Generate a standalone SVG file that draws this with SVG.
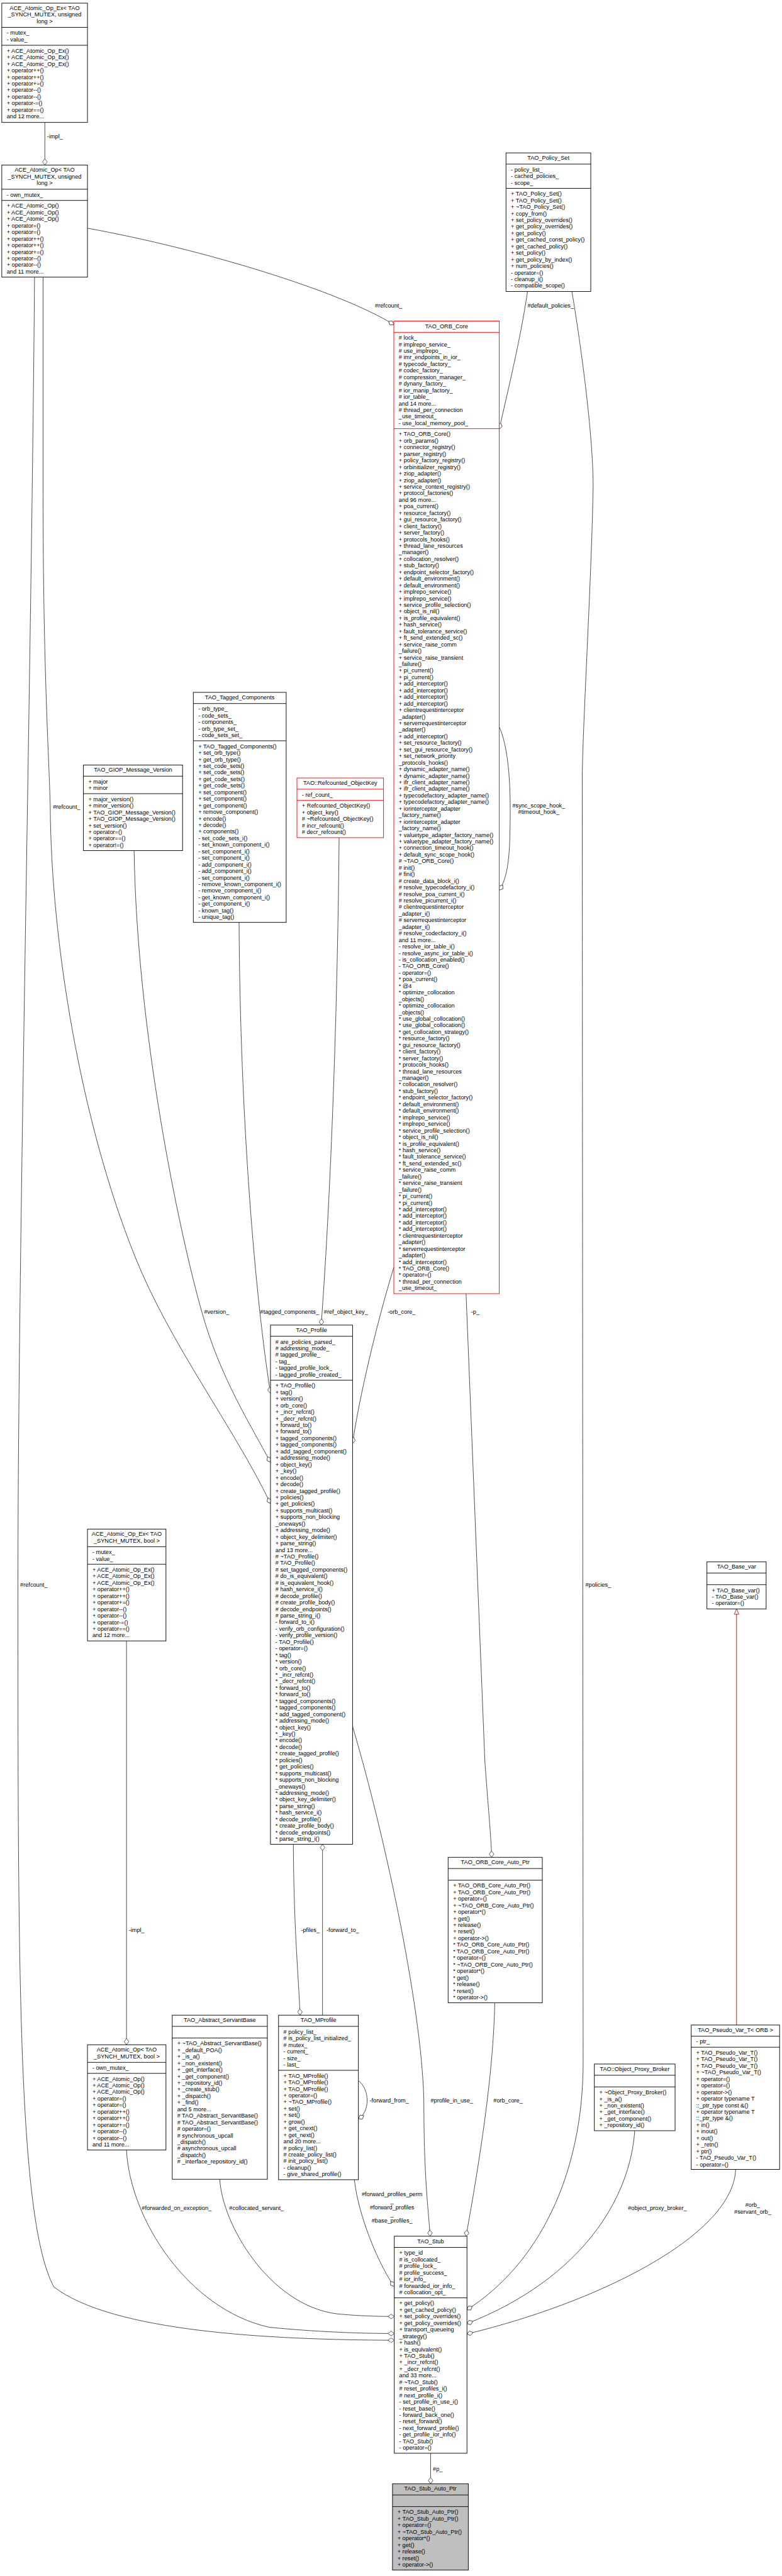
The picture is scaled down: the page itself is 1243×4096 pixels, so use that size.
<svg xmlns="http://www.w3.org/2000/svg" width="1243" height="4096" viewBox="0 0 1243 4096">
<style>
.t{font-family:"Liberation Sans",Arial,sans-serif;font-size:12.9px;fill:#000}
.m{text-anchor:middle}
.b{fill:#fff;stroke:#000;stroke-width:1.3}
.rb{fill:#fff;stroke:#f00;stroke-width:1.3}
.gb{fill:#bfbfbf;stroke:#000;stroke-width:1.3}
.s{stroke:#000;stroke-width:1.3}
.rs{stroke:#f00;stroke-width:1.3}
.e{fill:none;stroke:#404040;stroke-width:1.3}
.ih{fill:none;stroke:#9b1c1c;stroke-width:1.3}
</style>
<defs>
<marker id="d" viewBox="0 0 16 12" refX="15" refY="6" markerWidth="16" markerHeight="12" markerUnits="userSpaceOnUse" orient="auto"><path d="M1,6 L8,0.8 L15,6 L8,11.2 Z" fill="#fff" stroke="#404040" stroke-width="1.2"/></marker>
<marker id="tri" viewBox="0 0 14 12" refX="13" refY="6" markerWidth="14" markerHeight="12" markerUnits="userSpaceOnUse" orient="auto"><path d="M1,1 L13,6 L1,11 Z" fill="#fff" stroke="#9b1c1c" stroke-width="1.2"/></marker>
</defs>
<rect x="0" y="0" width="1243" height="4096" fill="#fff"/>
<g transform="scale(0.713)">
<g id="edges">
<path class="e" d="M100,273 L100,368" marker-end="url(#d)"/>
<text class="t" x="105" y="309">-impl_</text>
<path class="e" d="M195,509 C450,555 760,650 878,724" marker-end="url(#d)"/>
<text class="t" x="836" y="686">#refcount_</text>
<path class="e" d="M96,618 L96,1100 C96,1500 110,1700 112,1800 C114,2100 180,2500 300,2800 C380,3000 520,3180 603,3353" marker-end="url(#d)"/>
<text class="t" x="118" y="1804">#refcount_</text>
<path class="e" d="M299,1897 C305,2300 400,2750 450,2926 C490,3070 560,3180 603,3261" marker-end="url(#d)"/>
<text class="t" x="455" y="2930">#version_</text>
<path class="e" d="M533,2057 C535,2500 570,2900 603,3107" marker-end="url(#d)"/>
<text class="t" x="580" y="2930">#tagged_components_</text>
<path class="e" d="M756,1868 C752,2300 735,2700 716,2955" marker-end="url(#d)"/>
<text class="t" x="722" y="2930">#ref_object_key_</text>
<path class="e" d="M878,2826 C840,2950 800,3120 786,3219" marker-end="url(#d)"/>
<text class="t" x="864" y="2930">-orb_core_</text>
<path class="e" d="M1039,2885 L1081,3930 C1090,4050 1095,4100 1096,4142" marker-end="url(#d)"/>
<text class="t" x="1050" y="2930">-p_</text>
<path class="e" d="M1176,650 C1160,760 1130,880 1113,957" marker-end="url(#d)"/>
<text class="t" x="1176" y="686">#default_policies_</text>
<path class="e" d="M1275,650 C1300,800 1325,1000 1322,1100 C1318,1300 1300,1600 1298,1730 L1300,4600 C1300,4850 1200,5050 1041,5151" marker-end="url(#d)"/>
<text class="t" x="1305" y="3539">#policies_</text>
<path class="e" d="M1113,1621 C1140,1680 1138,1800 1137,1850 C1136,1920 1130,1960 1113,1985" marker-end="url(#d)"/>
<text class="t m" x="1201" y="1801">#sync_scope_hook_</text>
<text class="t m" x="1201" y="1815.5">#timeout_hook_</text>
<path class="e" d="M654,4113 C655,4300 665,4400 669,4494" marker-end="url(#d)"/>
<text class="t" x="671" y="4309">-pfiles_</text>
<path class="e" d="M719,4494 L719,4113" marker-end="url(#d)"/>
<text class="t" x="728" y="4309">-forward_to_</text>
<path class="e" d="M799,4640 C825,4660 825,4710 799,4725" marker-end="url(#d)"/>
<text class="t" x="824" y="4688">-forward_from_</text>
<path class="e" d="M1103,4467 C1100,4600 1080,4760 1039,4987" marker-end="url(#d)"/>
<text class="t" x="1100" y="4688">#orb_core_</text>
<path class="e" d="M786,3850 C860,4100 945,4500 945,4700 C945,4850 955,4930 959,4987" marker-end="url(#d)"/>
<text class="t" x="960" y="4688">#profile_in_use_</text>
<path class="e" d="M790,4861 C800,4950 850,5060 879,5099" marker-end="url(#d)"/>
<text class="t m" x="874" y="4898"><tspan x="874">#forward_profiles_perm</tspan><tspan x="874" dy="14.65">_</tspan><tspan x="874" dy="14.65">#forward_profiles</tspan><tspan x="874" dy="14.65">_</tspan><tspan x="874" dy="14.65">#base_profiles_</tspan></text>
<path class="e" d="M490,4860 C495,4960 600,5140 750,5160 C800,5165 850,5166 879,5166" marker-end="url(#d)"/>
<text class="t" x="511" y="4929">#collocated_servant_</text>
<path class="e" d="M282,4795 C290,4950 420,5150 600,5190 C700,5200 800,5204 879,5204" marker-end="url(#d)"/>
<text class="t" x="316" y="4929">#forwarded_on_exception_</text>
<path class="e" d="M77,618 C70,1500 40,2800 40,3534 C40,4400 40,4950 120,5100 C250,5200 600,5218 879,5219" marker-end="url(#d)"/>
<text class="t" x="45" y="3538">#refcount_</text>
<path class="e" d="M282,3659 L282,4560" marker-end="url(#d)"/>
<text class="t" x="287" y="4309">-impl_</text>
<path class="e" d="M1415,4752 C1405,4900 1300,5080 1041,5182" marker-end="url(#d)"/>
<text class="t" x="1400" y="4929">#object_proxy_broker_</text>
<path class="e" d="M1640,4838 C1635,4980 1350,5130 1041,5205" marker-end="url(#d)"/>
<text class="t m" x="1678" y="4922"><tspan x="1678">#orb_</tspan><tspan x="1678" dy="14.65">#servant_orb_</tspan></text>
<path class="e" d="M960,5471 L960,5539" marker-end="url(#d)"/>
<text class="t" x="965" y="5510">#p_</text>
<path class="ih" d="M1642,4516 L1642,3588" marker-end="url(#tri)"/>
</g>

<g id="n_atomic_op_ex_ulong">
<rect class="b" x="4" y="7" width="191" height="266"/>
<line class="s" x1="4" y1="61" x2="195" y2="61"/><line class="s" x1="4" y1="101" x2="195" y2="101"/>
<text class="t m" y="22.5"><tspan x="99.5">ACE_Atomic_Op_Ex&lt; TAO</tspan><tspan x="99.5" dy="14.65">_SYNCH_MUTEX, unsigned</tspan><tspan x="99.5" dy="14.65">long &gt;</tspan></text>
<text class="t" y="77.5"><tspan x="15">- mutex_</tspan><tspan x="15" dy="14.65">- value_</tspan></text>
<text class="t" y="117.5"><tspan x="15">+ ACE_Atomic_Op_Ex()</tspan><tspan x="15" dy="14.65">+ ACE_Atomic_Op_Ex()</tspan><tspan x="15" dy="14.65">+ ACE_Atomic_Op_Ex()</tspan><tspan x="15" dy="14.65">+ operator++()</tspan><tspan x="15" dy="14.65">+ operator++()</tspan><tspan x="15" dy="14.65">+ operator+=()</tspan><tspan x="15" dy="14.65">+ operator--()</tspan><tspan x="15" dy="14.65">+ operator--()</tspan><tspan x="15" dy="14.65">+ operator-=()</tspan><tspan x="15" dy="14.65">+ operator==()</tspan><tspan x="15" dy="14.65">and 12 more...</tspan></text>
</g>

<g id="n_atomic_op_ulong">
<rect class="b" x="4" y="368" width="191" height="250"/>
<line class="s" x1="4" y1="422" x2="195" y2="422"/><line class="s" x1="4" y1="447" x2="195" y2="447"/>
<text class="t m" y="383.5"><tspan x="99.5">ACE_Atomic_Op&lt; TAO</tspan><tspan x="99.5" dy="14.65">_SYNCH_MUTEX, unsigned</tspan><tspan x="99.5" dy="14.65">long &gt;</tspan></text>
<text class="t" x="15" y="438.5">- own_mutex_</text>
<text class="t" y="463.5"><tspan x="15">+ ACE_Atomic_Op()</tspan><tspan x="15" dy="14.65">+ ACE_Atomic_Op()</tspan><tspan x="15" dy="14.65">+ ACE_Atomic_Op()</tspan><tspan x="15" dy="14.65">+ operator=()</tspan><tspan x="15" dy="14.65">+ operator=()</tspan><tspan x="15" dy="14.65">+ operator++()</tspan><tspan x="15" dy="14.65">+ operator++()</tspan><tspan x="15" dy="14.65">+ operator+=()</tspan><tspan x="15" dy="14.65">+ operator--()</tspan><tspan x="15" dy="14.65">+ operator--()</tspan><tspan x="15" dy="14.65">and 11 more...</tspan></text>
</g>

<g id="n_policy_set">
<rect class="b" x="1128" y="341" width="189" height="309"/>
<line class="s" x1="1128" y1="366" x2="1317" y2="366"/><line class="s" x1="1128" y1="420" x2="1317" y2="420"/>
<text class="t m" x="1222.5" y="356.5">TAO_Policy_Set</text>
<text class="t" y="382.5"><tspan x="1139">- policy_list_</tspan><tspan x="1139" dy="14.65">- cached_policies_</tspan><tspan x="1139" dy="14.65">- scope_</tspan></text>
<text class="t" y="436.5"><tspan x="1139">+ TAO_Policy_Set()</tspan><tspan x="1139" dy="14.65">+ TAO_Policy_Set()</tspan><tspan x="1139" dy="14.65">+ ~TAO_Policy_Set()</tspan><tspan x="1139" dy="14.65">+ copy_from()</tspan><tspan x="1139" dy="14.65">+ set_policy_overrides()</tspan><tspan x="1139" dy="14.65">+ get_policy_overrides()</tspan><tspan x="1139" dy="14.65">+ get_policy()</tspan><tspan x="1139" dy="14.65">+ get_cached_const_policy()</tspan><tspan x="1139" dy="14.65">+ get_cached_policy()</tspan><tspan x="1139" dy="14.65">+ set_policy()</tspan><tspan x="1139" dy="14.65">+ get_policy_by_index()</tspan><tspan x="1139" dy="14.65">+ num_policies()</tspan><tspan x="1139" dy="14.65">- operator=()</tspan><tspan x="1139" dy="14.65">- cleanup_i()</tspan><tspan x="1139" dy="14.65">- compatible_scope()</tspan></text>
</g>

<g id="n_orb_core">
<rect class="rb" x="878" y="716" width="235" height="2169"/>
<line class="rs" x1="878" y1="741" x2="1113" y2="741"/><line class="rs" x1="878" y1="956" x2="1113" y2="956"/>
<text class="t m" x="995.5" y="731.5">TAO_ORB_Core</text>
<text class="t" y="757.5"><tspan x="889"># lock_</tspan><tspan x="889" dy="14.65"># implrepo_service_</tspan><tspan x="889" dy="14.65"># use_implrepo_</tspan><tspan x="889" dy="14.65"># imr_endpoints_in_ior_</tspan><tspan x="889" dy="14.65"># typecode_factory_</tspan><tspan x="889" dy="14.65"># codec_factory_</tspan><tspan x="889" dy="14.65"># compression_manager_</tspan><tspan x="889" dy="14.65"># dynany_factory_</tspan><tspan x="889" dy="14.65"># ior_manip_factory_</tspan><tspan x="889" dy="14.65"># ior_table_</tspan><tspan x="889" dy="14.65">and 14 more...</tspan><tspan x="889" dy="14.65"># thread_per_connection</tspan><tspan x="889" dy="14.65">_use_timeout_</tspan><tspan x="889" dy="14.65">- use_local_memory_pool_</tspan></text>
<text class="t" y="972.5"><tspan x="889">+ TAO_ORB_Core()</tspan><tspan x="889" dy="14.65">+ orb_params()</tspan><tspan x="889" dy="14.65">+ connector_registry()</tspan><tspan x="889" dy="14.65">+ parser_registry()</tspan><tspan x="889" dy="14.65">+ policy_factory_registry()</tspan><tspan x="889" dy="14.65">+ orbinitializer_registry()</tspan><tspan x="889" dy="14.65">+ ziop_adapter()</tspan><tspan x="889" dy="14.65">+ ziop_adapter()</tspan><tspan x="889" dy="14.65">+ service_context_registry()</tspan><tspan x="889" dy="14.65">+ protocol_factories()</tspan><tspan x="889" dy="14.65">and 96 more...</tspan><tspan x="889" dy="14.65">+ poa_current()</tspan><tspan x="889" dy="14.65">+ resource_factory()</tspan><tspan x="889" dy="14.65">+ gui_resource_factory()</tspan><tspan x="889" dy="14.65">+ client_factory()</tspan><tspan x="889" dy="14.65">+ server_factory()</tspan><tspan x="889" dy="14.65">+ protocols_hooks()</tspan><tspan x="889" dy="14.65">+ thread_lane_resources</tspan><tspan x="889" dy="14.65">_manager()</tspan><tspan x="889" dy="14.65">+ collocation_resolver()</tspan><tspan x="889" dy="14.65">+ stub_factory()</tspan><tspan x="889" dy="14.65">+ endpoint_selector_factory()</tspan><tspan x="889" dy="14.65">+ default_environment()</tspan><tspan x="889" dy="14.65">+ default_environment()</tspan><tspan x="889" dy="14.65">+ implrepo_service()</tspan><tspan x="889" dy="14.65">+ implrepo_service()</tspan><tspan x="889" dy="14.65">+ service_profile_selection()</tspan><tspan x="889" dy="14.65">+ object_is_nil()</tspan><tspan x="889" dy="14.65">+ is_profile_equivalent()</tspan><tspan x="889" dy="14.65">+ hash_service()</tspan><tspan x="889" dy="14.65">+ fault_tolerance_service()</tspan><tspan x="889" dy="14.65">+ ft_send_extended_sc()</tspan><tspan x="889" dy="14.65">+ service_raise_comm</tspan><tspan x="889" dy="14.65">_failure()</tspan><tspan x="889" dy="14.65">+ service_raise_transient</tspan><tspan x="889" dy="14.65">_failure()</tspan><tspan x="889" dy="14.65">+ pi_current()</tspan><tspan x="889" dy="14.65">+ pi_current()</tspan><tspan x="889" dy="14.65">+ add_interceptor()</tspan><tspan x="889" dy="14.65">+ add_interceptor()</tspan><tspan x="889" dy="14.65">+ add_interceptor()</tspan><tspan x="889" dy="14.65">+ add_interceptor()</tspan><tspan x="889" dy="14.65">+ clientrequestinterceptor</tspan><tspan x="889" dy="14.65">_adapter()</tspan><tspan x="889" dy="14.65">+ serverrequestinterceptor</tspan><tspan x="889" dy="14.65">_adapter()</tspan><tspan x="889" dy="14.65">+ add_interceptor()</tspan><tspan x="889" dy="14.65">+ set_resource_factory()</tspan><tspan x="889" dy="14.65">+ set_gui_resource_factory()</tspan><tspan x="889" dy="14.65">+ set_network_priority</tspan><tspan x="889" dy="14.65">_protocols_hooks()</tspan><tspan x="889" dy="14.65">+ dynamic_adapter_name()</tspan><tspan x="889" dy="14.65">+ dynamic_adapter_name()</tspan><tspan x="889" dy="14.65">+ ifr_client_adapter_name()</tspan><tspan x="889" dy="14.65">+ ifr_client_adapter_name()</tspan><tspan x="889" dy="14.65">+ typecodefactory_adapter_name()</tspan><tspan x="889" dy="14.65">+ typecodefactory_adapter_name()</tspan><tspan x="889" dy="14.65">+ iorinterceptor_adapter</tspan><tspan x="889" dy="14.65">_factory_name()</tspan><tspan x="889" dy="14.65">+ iorinterceptor_adapter</tspan><tspan x="889" dy="14.65">_factory_name()</tspan><tspan x="889" dy="14.65">+ valuetype_adapter_factory_name()</tspan><tspan x="889" dy="14.65">+ valuetype_adapter_factory_name()</tspan><tspan x="889" dy="14.65">+ connection_timeout_hook()</tspan><tspan x="889" dy="14.65">+ default_sync_scope_hook()</tspan><tspan x="889" dy="14.65"># ~TAO_ORB_Core()</tspan><tspan x="889" dy="14.65"># init()</tspan><tspan x="889" dy="14.65"># fini()</tspan><tspan x="889" dy="14.65"># create_data_block_i()</tspan><tspan x="889" dy="14.65"># resolve_typecodefactory_i()</tspan><tspan x="889" dy="14.65"># resolve_poa_current_i()</tspan><tspan x="889" dy="14.65"># resolve_picurrent_i()</tspan><tspan x="889" dy="14.65"># clientrequestinterceptor</tspan><tspan x="889" dy="14.65">_adapter_i()</tspan><tspan x="889" dy="14.65"># serverrequestinterceptor</tspan><tspan x="889" dy="14.65">_adapter_i()</tspan><tspan x="889" dy="14.65"># resolve_codecfactory_i()</tspan><tspan x="889" dy="14.65">and 11 more...</tspan><tspan x="889" dy="14.65">- resolve_ior_table_i()</tspan><tspan x="889" dy="14.65">- resolve_async_ior_table_i()</tspan><tspan x="889" dy="14.65">- is_collocation_enabled()</tspan><tspan x="889" dy="14.65">- TAO_ORB_Core()</tspan><tspan x="889" dy="14.65">- operator=()</tspan><tspan x="889" dy="14.65">* poa_current()</tspan><tspan x="889" dy="14.65">* @4</tspan><tspan x="889" dy="14.65">* optimize_collocation</tspan><tspan x="889" dy="14.65">_objects()</tspan><tspan x="889" dy="14.65">* optimize_collocation</tspan><tspan x="889" dy="14.65">_objects()</tspan><tspan x="889" dy="14.65">* use_global_collocation()</tspan><tspan x="889" dy="14.65">* use_global_collocation()</tspan><tspan x="889" dy="14.65">* get_collocation_strategy()</tspan><tspan x="889" dy="14.65">* resource_factory()</tspan><tspan x="889" dy="14.65">* gui_resource_factory()</tspan><tspan x="889" dy="14.65">* client_factory()</tspan><tspan x="889" dy="14.65">* server_factory()</tspan><tspan x="889" dy="14.65">* protocols_hooks()</tspan><tspan x="889" dy="14.65">* thread_lane_resources</tspan><tspan x="889" dy="14.65">_manager()</tspan><tspan x="889" dy="14.65">* collocation_resolver()</tspan><tspan x="889" dy="14.65">* stub_factory()</tspan><tspan x="889" dy="14.65">* endpoint_selector_factory()</tspan><tspan x="889" dy="14.65">* default_environment()</tspan><tspan x="889" dy="14.65">* default_environment()</tspan><tspan x="889" dy="14.65">* implrepo_service()</tspan><tspan x="889" dy="14.65">* implrepo_service()</tspan><tspan x="889" dy="14.65">* service_profile_selection()</tspan><tspan x="889" dy="14.65">* object_is_nil()</tspan><tspan x="889" dy="14.65">* is_profile_equivalent()</tspan><tspan x="889" dy="14.65">* hash_service()</tspan><tspan x="889" dy="14.65">* fault_tolerance_service()</tspan><tspan x="889" dy="14.65">* ft_send_extended_sc()</tspan><tspan x="889" dy="14.65">* service_raise_comm</tspan><tspan x="889" dy="14.65">_failure()</tspan><tspan x="889" dy="14.65">* service_raise_transient</tspan><tspan x="889" dy="14.65">_failure()</tspan><tspan x="889" dy="14.65">* pi_current()</tspan><tspan x="889" dy="14.65">* pi_current()</tspan><tspan x="889" dy="14.65">* add_interceptor()</tspan><tspan x="889" dy="14.65">* add_interceptor()</tspan><tspan x="889" dy="14.65">* add_interceptor()</tspan><tspan x="889" dy="14.65">* add_interceptor()</tspan><tspan x="889" dy="14.65">* clientrequestinterceptor</tspan><tspan x="889" dy="14.65">_adapter()</tspan><tspan x="889" dy="14.65">* serverrequestinterceptor</tspan><tspan x="889" dy="14.65">_adapter()</tspan><tspan x="889" dy="14.65">* add_interceptor()</tspan><tspan x="889" dy="14.65">* TAO_ORB_Core()</tspan><tspan x="889" dy="14.65">* operator=()</tspan><tspan x="889" dy="14.65">* thread_per_connection</tspan><tspan x="889" dy="14.65">_use_timeout_</tspan></text>
</g>

<g id="n_giop_message_version">
<rect class="b" x="186" y="1706" width="221" height="191"/>
<line class="s" x1="186" y1="1731" x2="407" y2="1731"/><line class="s" x1="186" y1="1770" x2="407" y2="1770"/>
<text class="t m" x="296.5" y="1721.5">TAO_GIOP_Message_Version</text>
<text class="t" y="1747.5"><tspan x="197">+ major</tspan><tspan x="197" dy="14.65">+ minor</tspan></text>
<text class="t" y="1786.5"><tspan x="197">+ major_version()</tspan><tspan x="197" dy="14.65">+ minor_version()</tspan><tspan x="197" dy="14.65">+ TAO_GIOP_Message_Version()</tspan><tspan x="197" dy="14.65">+ TAO_GIOP_Message_Version()</tspan><tspan x="197" dy="14.65">+ set_version()</tspan><tspan x="197" dy="14.65">+ operator=()</tspan><tspan x="197" dy="14.65">+ operator==()</tspan><tspan x="197" dy="14.65">+ operator!=()</tspan></text>
</g>

<g id="n_tagged_components">
<rect class="b" x="431" y="1544" width="207" height="513"/>
<line class="s" x1="431" y1="1569" x2="638" y2="1569"/><line class="s" x1="431" y1="1652" x2="638" y2="1652"/>
<text class="t m" x="534.5" y="1559.5">TAO_Tagged_Components</text>
<text class="t" y="1585.5"><tspan x="442">- orb_type_</tspan><tspan x="442" dy="14.65">- code_sets_</tspan><tspan x="442" dy="14.65">- components_</tspan><tspan x="442" dy="14.65">- orb_type_set_</tspan><tspan x="442" dy="14.65">- code_sets_set_</tspan></text>
<text class="t" y="1668.5"><tspan x="442">+ TAO_Tagged_Components()</tspan><tspan x="442" dy="14.65">+ set_orb_type()</tspan><tspan x="442" dy="14.65">+ get_orb_type()</tspan><tspan x="442" dy="14.65">+ set_code_sets()</tspan><tspan x="442" dy="14.65">+ set_code_sets()</tspan><tspan x="442" dy="14.65">+ get_code_sets()</tspan><tspan x="442" dy="14.65">+ get_code_sets()</tspan><tspan x="442" dy="14.65">+ set_component()</tspan><tspan x="442" dy="14.65">+ set_component()</tspan><tspan x="442" dy="14.65">+ get_component()</tspan><tspan x="442" dy="14.65">+ remove_component()</tspan><tspan x="442" dy="14.65">+ encode()</tspan><tspan x="442" dy="14.65">+ decode()</tspan><tspan x="442" dy="14.65">+ components()</tspan><tspan x="442" dy="14.65">- set_code_sets_i()</tspan><tspan x="442" dy="14.65">- set_known_component_i()</tspan><tspan x="442" dy="14.65">- set_component_i()</tspan><tspan x="442" dy="14.65">- set_component_i()</tspan><tspan x="442" dy="14.65">- add_component_i()</tspan><tspan x="442" dy="14.65">- add_component_i()</tspan><tspan x="442" dy="14.65">- set_component_i()</tspan><tspan x="442" dy="14.65">- remove_known_component_i()</tspan><tspan x="442" dy="14.65">- remove_component_i()</tspan><tspan x="442" dy="14.65">- get_known_component_i()</tspan><tspan x="442" dy="14.65">- get_component_i()</tspan><tspan x="442" dy="14.65">- known_tag()</tspan><tspan x="442" dy="14.65">- unique_tag()</tspan></text>
</g>

<g id="n_refcounted_objectkey">
<rect class="rb" x="662" y="1735" width="193" height="133"/>
<line class="rs" x1="662" y1="1760" x2="855" y2="1760"/><line class="rs" x1="662" y1="1785" x2="855" y2="1785"/>
<text class="t m" x="758.5" y="1750.5">TAO::Refcounted_ObjectKey</text>
<text class="t" x="673" y="1776.5">- ref_count_</text>
<text class="t" y="1801.5"><tspan x="673">+ Refcounted_ObjectKey()</tspan><tspan x="673" dy="14.65">+ object_key()</tspan><tspan x="673" dy="14.65"># ~Refcounted_ObjectKey()</tspan><tspan x="673" dy="14.65"># incr_refcount()</tspan><tspan x="673" dy="14.65"># decr_refcount()</tspan></text>
</g>

<g id="n_profile">
<rect class="b" x="603" y="2955" width="183" height="1158"/>
<line class="s" x1="603" y1="2980" x2="786" y2="2980"/><line class="s" x1="603" y1="3078" x2="786" y2="3078"/>
<text class="t m" x="694.5" y="2970.5">TAO_Profile</text>
<text class="t" y="2996.5"><tspan x="614"># are_policies_parsed_</tspan><tspan x="614" dy="14.65"># addressing_mode_</tspan><tspan x="614" dy="14.65"># tagged_profile_</tspan><tspan x="614" dy="14.65">- tag_</tspan><tspan x="614" dy="14.65">- tagged_profile_lock_</tspan><tspan x="614" dy="14.65">- tagged_profile_created_</tspan></text>
<text class="t" y="3094.5"><tspan x="614">+ TAO_Profile()</tspan><tspan x="614" dy="14.65">+ tag()</tspan><tspan x="614" dy="14.65">+ version()</tspan><tspan x="614" dy="14.65">+ orb_core()</tspan><tspan x="614" dy="14.65">+ _incr_refcnt()</tspan><tspan x="614" dy="14.65">+ _decr_refcnt()</tspan><tspan x="614" dy="14.65">+ forward_to()</tspan><tspan x="614" dy="14.65">+ forward_to()</tspan><tspan x="614" dy="14.65">+ tagged_components()</tspan><tspan x="614" dy="14.65">+ tagged_components()</tspan><tspan x="614" dy="14.65">+ add_tagged_component()</tspan><tspan x="614" dy="14.65">+ addressing_mode()</tspan><tspan x="614" dy="14.65">+ object_key()</tspan><tspan x="614" dy="14.65">+ _key()</tspan><tspan x="614" dy="14.65">+ encode()</tspan><tspan x="614" dy="14.65">+ decode()</tspan><tspan x="614" dy="14.65">+ create_tagged_profile()</tspan><tspan x="614" dy="14.65">+ policies()</tspan><tspan x="614" dy="14.65">+ get_policies()</tspan><tspan x="614" dy="14.65">+ supports_multicast()</tspan><tspan x="614" dy="14.65">+ supports_non_blocking</tspan><tspan x="614" dy="14.65">_oneways()</tspan><tspan x="614" dy="14.65">+ addressing_mode()</tspan><tspan x="614" dy="14.65">+ object_key_delimiter()</tspan><tspan x="614" dy="14.65">+ parse_string()</tspan><tspan x="614" dy="14.65">and 13 more...</tspan><tspan x="614" dy="14.65"># ~TAO_Profile()</tspan><tspan x="614" dy="14.65"># TAO_Profile()</tspan><tspan x="614" dy="14.65"># set_tagged_components()</tspan><tspan x="614" dy="14.65"># do_is_equivalent()</tspan><tspan x="614" dy="14.65"># is_equivalent_hook()</tspan><tspan x="614" dy="14.65"># hash_service_i()</tspan><tspan x="614" dy="14.65"># decode_profile()</tspan><tspan x="614" dy="14.65"># create_profile_body()</tspan><tspan x="614" dy="14.65"># decode_endpoints()</tspan><tspan x="614" dy="14.65"># parse_string_i()</tspan><tspan x="614" dy="14.65">- forward_to_i()</tspan><tspan x="614" dy="14.65">- verify_orb_configuration()</tspan><tspan x="614" dy="14.65">- verify_profile_version()</tspan><tspan x="614" dy="14.65">- TAO_Profile()</tspan><tspan x="614" dy="14.65">- operator=()</tspan><tspan x="614" dy="14.65">* tag()</tspan><tspan x="614" dy="14.65">* version()</tspan><tspan x="614" dy="14.65">* orb_core()</tspan><tspan x="614" dy="14.65">* _incr_refcnt()</tspan><tspan x="614" dy="14.65">* _decr_refcnt()</tspan><tspan x="614" dy="14.65">* forward_to()</tspan><tspan x="614" dy="14.65">* forward_to()</tspan><tspan x="614" dy="14.65">* tagged_components()</tspan><tspan x="614" dy="14.65">* tagged_components()</tspan><tspan x="614" dy="14.65">* add_tagged_component()</tspan><tspan x="614" dy="14.65">* addressing_mode()</tspan><tspan x="614" dy="14.65">* object_key()</tspan><tspan x="614" dy="14.65">* _key()</tspan><tspan x="614" dy="14.65">* encode()</tspan><tspan x="614" dy="14.65">* decode()</tspan><tspan x="614" dy="14.65">* create_tagged_profile()</tspan><tspan x="614" dy="14.65">* policies()</tspan><tspan x="614" dy="14.65">* get_policies()</tspan><tspan x="614" dy="14.65">* supports_multicast()</tspan><tspan x="614" dy="14.65">* supports_non_blocking</tspan><tspan x="614" dy="14.65">_oneways()</tspan><tspan x="614" dy="14.65">* addressing_mode()</tspan><tspan x="614" dy="14.65">* object_key_delimiter()</tspan><tspan x="614" dy="14.65">* parse_string()</tspan><tspan x="614" dy="14.65">* hash_service_i()</tspan><tspan x="614" dy="14.65">* decode_profile()</tspan><tspan x="614" dy="14.65">* create_profile_body()</tspan><tspan x="614" dy="14.65">* decode_endpoints()</tspan><tspan x="614" dy="14.65">* parse_string_i()</tspan></text>
</g>

<g id="n_atomic_op_ex_bool">
<rect class="b" x="195" y="3410" width="175" height="249.4"/>
<line class="s" x1="195" y1="3449.3" x2="370" y2="3449.3"/><line class="s" x1="195" y1="3488.4" x2="370" y2="3488.4"/>
<text class="t m" y="3425.5"><tspan x="282.5">ACE_Atomic_Op_Ex&lt; TAO</tspan><tspan x="282.5" dy="14.65">_SYNCH_MUTEX, bool &gt;</tspan></text>
<text class="t" y="3465.8"><tspan x="206">- mutex_</tspan><tspan x="206" dy="14.65">- value_</tspan></text>
<text class="t" y="3504.9"><tspan x="206">+ ACE_Atomic_Op_Ex()</tspan><tspan x="206" dy="14.65">+ ACE_Atomic_Op_Ex()</tspan><tspan x="206" dy="14.65">+ ACE_Atomic_Op_Ex()</tspan><tspan x="206" dy="14.65">+ operator++()</tspan><tspan x="206" dy="14.65">+ operator++()</tspan><tspan x="206" dy="14.65">+ operator+=()</tspan><tspan x="206" dy="14.65">+ operator--()</tspan><tspan x="206" dy="14.65">+ operator--()</tspan><tspan x="206" dy="14.65">+ operator-=()</tspan><tspan x="206" dy="14.65">+ operator==()</tspan><tspan x="206" dy="14.65">and 12 more...</tspan></text>
</g>

<g id="n_atomic_op_bool">
<rect class="b" x="195" y="4560" width="175" height="234.8"/>
<line class="s" x1="195" y1="4599.3" x2="370" y2="4599.3"/><line class="s" x1="195" y1="4623.8" x2="370" y2="4623.8"/>
<text class="t m" y="4575.5"><tspan x="282.5">ACE_Atomic_Op&lt; TAO</tspan><tspan x="282.5" dy="14.65">_SYNCH_MUTEX, bool &gt;</tspan></text>
<text class="t" x="206" y="4615.8">- own_mutex_</text>
<text class="t" y="4640.3"><tspan x="206">+ ACE_Atomic_Op()</tspan><tspan x="206" dy="14.65">+ ACE_Atomic_Op()</tspan><tspan x="206" dy="14.65">+ ACE_Atomic_Op()</tspan><tspan x="206" dy="14.65">+ operator=()</tspan><tspan x="206" dy="14.65">+ operator=()</tspan><tspan x="206" dy="14.65">+ operator++()</tspan><tspan x="206" dy="14.65">+ operator++()</tspan><tspan x="206" dy="14.65">+ operator+=()</tspan><tspan x="206" dy="14.65">+ operator--()</tspan><tspan x="206" dy="14.65">+ operator--()</tspan><tspan x="206" dy="14.65">and 11 more...</tspan></text>
</g>

<g id="n_abstract_servantbase">
<rect class="b" x="384" y="4494" width="212" height="366"/>
<line class="s" x1="384" y1="4519" x2="596" y2="4519"/><line class="s" x1="384" y1="4545" x2="596" y2="4545"/>
<text class="t m" x="490" y="4509.5">TAO_Abstract_ServantBase</text>
<text class="t" y="4561.5"><tspan x="395">+ ~TAO_Abstract_ServantBase()</tspan><tspan x="395" dy="14.65">+ _default_POA()</tspan><tspan x="395" dy="14.65">+ _is_a()</tspan><tspan x="395" dy="14.65">+ _non_existent()</tspan><tspan x="395" dy="14.65">+ _get_interface()</tspan><tspan x="395" dy="14.65">+ _get_component()</tspan><tspan x="395" dy="14.65">+ _repository_id()</tspan><tspan x="395" dy="14.65">+ _create_stub()</tspan><tspan x="395" dy="14.65">+ _dispatch()</tspan><tspan x="395" dy="14.65">+ _find()</tspan><tspan x="395" dy="14.65">and 5 more...</tspan><tspan x="395" dy="14.65"># TAO_Abstract_ServantBase()</tspan><tspan x="395" dy="14.65"># TAO_Abstract_ServantBase()</tspan><tspan x="395" dy="14.65"># operator=()</tspan><tspan x="395" dy="14.65"># synchronous_upcall</tspan><tspan x="395" dy="14.65">_dispatch()</tspan><tspan x="395" dy="14.65"># asynchronous_upcall</tspan><tspan x="395" dy="14.65">_dispatch()</tspan><tspan x="395" dy="14.65"># _interface_repository_id()</tspan></text>
</g>

<g id="n_mprofile">
<rect class="b" x="621" y="4494" width="178" height="367"/>
<line class="s" x1="621" y1="4519" x2="799" y2="4519"/><line class="s" x1="621" y1="4617" x2="799" y2="4617"/>
<text class="t m" x="710" y="4509.5">TAO_MProfile</text>
<text class="t" y="4535.5"><tspan x="632"># policy_list_</tspan><tspan x="632" dy="14.65"># is_policy_list_initialized_</tspan><tspan x="632" dy="14.65"># mutex_</tspan><tspan x="632" dy="14.65">- current_</tspan><tspan x="632" dy="14.65">- size_</tspan><tspan x="632" dy="14.65">- last_</tspan></text>
<text class="t" y="4633.5"><tspan x="632">+ TAO_MProfile()</tspan><tspan x="632" dy="14.65">+ TAO_MProfile()</tspan><tspan x="632" dy="14.65">+ TAO_MProfile()</tspan><tspan x="632" dy="14.65">+ operator=()</tspan><tspan x="632" dy="14.65">+ ~TAO_MProfile()</tspan><tspan x="632" dy="14.65">+ set()</tspan><tspan x="632" dy="14.65">+ set()</tspan><tspan x="632" dy="14.65">+ grow()</tspan><tspan x="632" dy="14.65">+ get_cnext()</tspan><tspan x="632" dy="14.65">+ get_next()</tspan><tspan x="632" dy="14.65">and 20 more...</tspan><tspan x="632" dy="14.65"># policy_list()</tspan><tspan x="632" dy="14.65"># create_policy_list()</tspan><tspan x="632" dy="14.65"># init_policy_list()</tspan><tspan x="632" dy="14.65">- cleanup()</tspan><tspan x="632" dy="14.65">- give_shared_profile()</tspan></text>
</g>

<g id="n_orb_core_auto_ptr">
<rect class="b" x="999" y="4142" width="210" height="324.5"/>
<line class="s" x1="999" y1="4167" x2="1209" y2="4167"/><line class="s" x1="999" y1="4193" x2="1209" y2="4193"/>
<text class="t m" x="1104" y="4157.5">TAO_ORB_Core_Auto_Ptr</text>
<text class="t" y="4209.5"><tspan x="1010">+ TAO_ORB_Core_Auto_Ptr()</tspan><tspan x="1010" dy="14.65">+ TAO_ORB_Core_Auto_Ptr()</tspan><tspan x="1010" dy="14.65">+ operator=()</tspan><tspan x="1010" dy="14.65">+ ~TAO_ORB_Core_Auto_Ptr()</tspan><tspan x="1010" dy="14.65">+ operator*()</tspan><tspan x="1010" dy="14.65">+ get()</tspan><tspan x="1010" dy="14.65">+ release()</tspan><tspan x="1010" dy="14.65">+ reset()</tspan><tspan x="1010" dy="14.65">+ operator-&gt;()</tspan><tspan x="1010" dy="14.65">* TAO_ORB_Core_Auto_Ptr()</tspan><tspan x="1010" dy="14.65">* TAO_ORB_Core_Auto_Ptr()</tspan><tspan x="1010" dy="14.65">* operator=()</tspan><tspan x="1010" dy="14.65">* ~TAO_ORB_Core_Auto_Ptr()</tspan><tspan x="1010" dy="14.65">* operator*()</tspan><tspan x="1010" dy="14.65">* get()</tspan><tspan x="1010" dy="14.65">* release()</tspan><tspan x="1010" dy="14.65">* reset()</tspan><tspan x="1010" dy="14.65">* operator-&gt;()</tspan></text>
</g>

<g id="n_object_proxy_broker">
<rect class="b" x="1325" y="4603" width="180" height="148.7"/>
<line class="s" x1="1325" y1="4628" x2="1505" y2="4628"/><line class="s" x1="1325" y1="4654" x2="1505" y2="4654"/>
<text class="t m" x="1415" y="4618.5">TAO::Object_Proxy_Broker</text>
<text class="t" y="4670.5"><tspan x="1336">+ ~Object_Proxy_Broker()</tspan><tspan x="1336" dy="14.65">+ _is_a()</tspan><tspan x="1336" dy="14.65">+ _non_existent()</tspan><tspan x="1336" dy="14.65">+ _get_interface()</tspan><tspan x="1336" dy="14.65">+ _get_component()</tspan><tspan x="1336" dy="14.65">+ _repository_id()</tspan></text>
</g>

<g id="n_base_var">
<rect class="b" x="1576" y="3483" width="132" height="105"/>
<line class="s" x1="1576" y1="3508" x2="1708" y2="3508"/><line class="s" x1="1576" y1="3534" x2="1708" y2="3534"/>
<text class="t m" x="1642" y="3498.5">TAO_Base_var</text>
<text class="t" y="3550.5"><tspan x="1587">+ TAO_Base_var()</tspan><tspan x="1587" dy="14.65">- TAO_Base_var()</tspan><tspan x="1587" dy="14.65">- operator=()</tspan></text>
</g>

<g id="n_pseudo_var_t_orb">
<rect class="b" x="1541" y="4516" width="197" height="322"/>
<line class="s" x1="1541" y1="4541" x2="1738" y2="4541"/><line class="s" x1="1541" y1="4565.5" x2="1738" y2="4565.5"/>
<text class="t m" x="1639.5" y="4531.5">TAO_Pseudo_Var_T&lt; ORB &gt;</text>
<text class="t" x="1552" y="4557.5">- ptr_</text>
<text class="t" y="4582"><tspan x="1552">+ TAO_Pseudo_Var_T()</tspan><tspan x="1552" dy="14.65">+ TAO_Pseudo_Var_T()</tspan><tspan x="1552" dy="14.65">+ TAO_Pseudo_Var_T()</tspan><tspan x="1552" dy="14.65">+ ~TAO_Pseudo_Var_T()</tspan><tspan x="1552" dy="14.65">+ operator=()</tspan><tspan x="1552" dy="14.65">+ operator=()</tspan><tspan x="1552" dy="14.65">+ operator-&gt;()</tspan><tspan x="1552" dy="14.65">+ operator typename T</tspan><tspan x="1552" dy="14.65">::_ptr_type const &amp;()</tspan><tspan x="1552" dy="14.65">+ operator typename T</tspan><tspan x="1552" dy="14.65">::_ptr_type &amp;()</tspan><tspan x="1552" dy="14.65">+ in()</tspan><tspan x="1552" dy="14.65">+ inout()</tspan><tspan x="1552" dy="14.65">+ out()</tspan><tspan x="1552" dy="14.65">+ _retn()</tspan><tspan x="1552" dy="14.65">+ ptr()</tspan><tspan x="1552" dy="14.65">- TAO_Pseudo_Var_T()</tspan><tspan x="1552" dy="14.65">- operator=()</tspan></text>
</g>

<g id="n_stub">
<rect class="b" x="879" y="4987" width="162" height="484"/>
<line class="s" x1="879" y1="5012" x2="1041" y2="5012"/><line class="s" x1="879" y1="5124.4" x2="1041" y2="5124.4"/>
<text class="t m" x="960" y="5002.5">TAO_Stub</text>
<text class="t" y="5028.5"><tspan x="890">+ type_id</tspan><tspan x="890" dy="14.65"># is_collocated_</tspan><tspan x="890" dy="14.65"># profile_lock_</tspan><tspan x="890" dy="14.65"># profile_success_</tspan><tspan x="890" dy="14.65"># ior_info_</tspan><tspan x="890" dy="14.65"># forwarded_ior_info_</tspan><tspan x="890" dy="14.65"># collocation_opt_</tspan></text>
<text class="t" y="5140.9"><tspan x="890">+ get_policy()</tspan><tspan x="890" dy="14.65">+ get_cached_policy()</tspan><tspan x="890" dy="14.65">+ set_policy_overrides()</tspan><tspan x="890" dy="14.65">+ get_policy_overrides()</tspan><tspan x="890" dy="14.65">+ transport_queueing</tspan><tspan x="890" dy="14.65">_strategy()</tspan><tspan x="890" dy="14.65">+ hash()</tspan><tspan x="890" dy="14.65">+ is_equivalent()</tspan><tspan x="890" dy="14.65">+ TAO_Stub()</tspan><tspan x="890" dy="14.65">+ _incr_refcnt()</tspan><tspan x="890" dy="14.65">+ _decr_refcnt()</tspan><tspan x="890" dy="14.65">and 33 more...</tspan><tspan x="890" dy="14.65"># ~TAO_Stub()</tspan><tspan x="890" dy="14.65"># reset_profiles_i()</tspan><tspan x="890" dy="14.65"># next_profile_i()</tspan><tspan x="890" dy="14.65">- set_profile_in_use_i()</tspan><tspan x="890" dy="14.65">- reset_base()</tspan><tspan x="890" dy="14.65">- forward_back_one()</tspan><tspan x="890" dy="14.65">- reset_forward()</tspan><tspan x="890" dy="14.65">- next_forward_profile()</tspan><tspan x="890" dy="14.65">- get_profile_ior_info()</tspan><tspan x="890" dy="14.65">- TAO_Stub()</tspan><tspan x="890" dy="14.65">- operator=()</tspan></text>
</g>

<g id="n_stub_auto_ptr">
<rect class="gb" x="875" y="5539" width="169" height="192.5"/>
<line class="s" x1="875" y1="5564" x2="1044" y2="5564"/><line class="s" x1="875" y1="5590" x2="1044" y2="5590"/>
<text class="t m" x="959.5" y="5554.5">TAO_Stub_Auto_Ptr</text>
<text class="t" y="5606.5"><tspan x="886">+ TAO_Stub_Auto_Ptr()</tspan><tspan x="886" dy="14.65">+ TAO_Stub_Auto_Ptr()</tspan><tspan x="886" dy="14.65">+ operator=()</tspan><tspan x="886" dy="14.65">+ ~TAO_Stub_Auto_Ptr()</tspan><tspan x="886" dy="14.65">+ operator*()</tspan><tspan x="886" dy="14.65">+ get()</tspan><tspan x="886" dy="14.65">+ release()</tspan><tspan x="886" dy="14.65">+ reset()</tspan><tspan x="886" dy="14.65">+ operator-&gt;()</tspan></text>
</g>
</g>
</svg>
